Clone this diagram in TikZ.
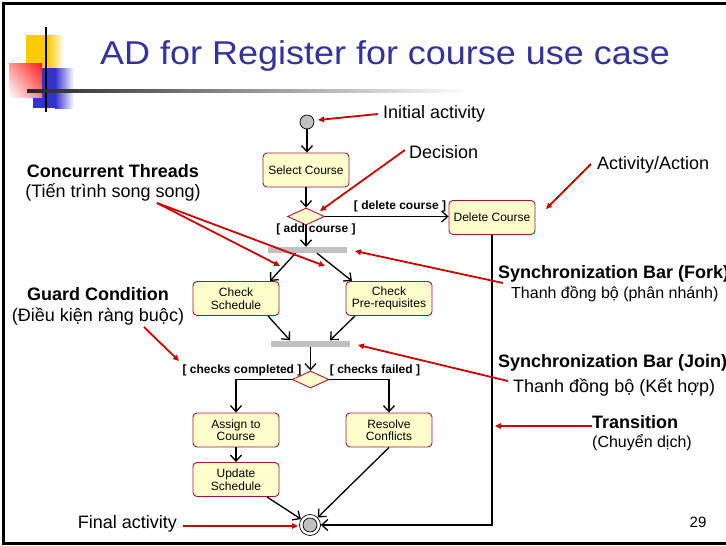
\documentclass[tikz,border=0pt]{standalone}
\usepackage{fontspec}
\usepackage{graphicx}
\setmainfont{Liberation Sans}
\usetikzlibrary{arrows.meta,shapes.geometric,calc,shadings}
\definecolor{titleblue}{HTML}{333399}
\definecolor{boxfill}{HTML}{FFFFCC}
\definecolor{boxline}{HTML}{A0183C}
\definecolor{barfill}{HTML}{C0C0C0}
\definecolor{notered}{HTML}{CC0000}
\definecolor{decoyellow}{HTML}{FFCC00}
\definecolor{decored}{HTML}{FF1A1A}
\definecolor{decoblue}{HTML}{3333CC}
\tikzset{
  activity/.style={draw=boxline, fill=boxfill, line width=0.9pt, rounded corners=4pt,
    minimum width=86pt, minimum height=34pt, align=center, inner sep=1pt,
    font=\fontsize{12}{12.5}\selectfont},
  choice/.style={diamond, draw=boxline, fill=boxfill, line width=0.9pt, inner sep=0pt,
    minimum width=37pt, minimum height=17pt},
  syncbar/.style={rectangle, fill=barfill, inner sep=0pt, minimum width=79pt, minimum height=6pt},
  startnode/.style={circle, draw=black, fill=barfill, line width=0.7pt, minimum size=14pt, inner sep=0pt},
  flow/.style={draw=black, line width=1.3pt, -{Straight Barb[length=6pt,width=11pt,line width=1.3pt]}},
  guard/.style={font=\bfseries\fontsize{12}{13}\selectfont, inner sep=0pt},
  note/.style={draw=notered, line width=1.8pt, -{Triangle[length=6pt,width=5.5pt]}},
  notetext/.style={font=\fontsize{18}{20}\selectfont, inner sep=0pt},
  notehead/.style={font=\bfseries\fontsize{18}{20}\selectfont, inner sep=0pt},
  notesub/.style={font=\fontsize{18}{20}\selectfont, inner sep=0pt},
  notesmall/.style={font=\fontsize{16}{18}\selectfont, inner sep=0pt},
}
\begin{document}
\begin{tikzpicture}[x=1pt,y=-1pt]
\useasboundingbox (0,0) rectangle (726,546);
\clip (0,0) rectangle (726,546);
\fill[white] (0,0) rectangle (726,546);

% slide frame
\draw[line width=3pt] (3,3) rectangle (760,543);

% title decoration
\fill[decoyellow] (26,35) rectangle (48,67);
\shade[left color=decoyellow, right color=white] (48,35) rectangle (64,67);
\fill[decoblue] (33,68) rectangle (55,108);
\shade[left color=decoblue, right color=white] (55,68) rectangle (74,108);
\shade[upper right=decored, upper left=white!55!decored, lower right=white!45!decored, lower left=white] (9,63) rectangle (42,97);
\draw[line width=2.2pt] (46,27) -- (46,112);
\shade[left color=black!85, right color=white] (27,89.8) rectangle (470,92.2);
\node[anchor=west, text=titleblue, font=\fontsize{33}{36}\selectfont, inner sep=0pt] (title) at (100,56) {\scalebox{1.09}[1]{AD for Register for course use case}};

% activity diagram
\node[startnode] (init) at (307,122) {};
\node[activity] (sel) at (306,170) {Select Course};
\node[choice] (dec1) at (306,216.5) {};
\node[activity] (del) at (492,217.5) {Delete Course};
\node[syncbar] (fork) at (307.5,250) {};
\node[activity] (chs) at (236,298.5) {Check\\Schedule};
\node[activity] (chp) at (389,298.5) {Check\\Pre-requisites};
\node[syncbar] (join) at (310.5,343.5) {};
\node[choice] (dec2) at (310.5,379.5) {};
\node[activity] (asg) at (236,430) {Assign to\\Course};
\node[activity] (upd) at (236,479.5) {Update\\Schedule};
\node[activity] (res) at (389,430) {Resolve\\Conflicts};
\node[circle, draw=black, line width=0.7pt, minimum size=21pt, inner sep=0pt] (final) at (310,525) {};
\node[circle, draw=black, fill=barfill, line width=0.7pt, minimum size=14pt, inner sep=0pt] (finalin) at (310,525) {};

\draw[flow] (init.south) -- (init.south |- sel.north);
\draw[flow] (sel.south -| dec1.north) -- (dec1.north);
\draw[flow] (dec1.east) -- (dec1.east -| del.west);
\draw[flow] (dec1.south) -- (dec1.south |- fork.north);
\draw[flow] ($(fork.south)+(-12,0)$) -- ($(chs.north)+(34,0)$);
\draw[flow] ($(fork.south)+(9.5,0)$) -- ($(chp.north)+(-37,0)$);
\draw[flow] ($(chs.south)+(32,0)$) -- ($(join.north)+(-20.5,0)$);
\draw[flow] ($(chp.south)+(-34,0)$) -- ($(join.north)+(19.5,0)$);
\draw[flow] (join.south) -- (dec2.north);
\draw[flow] (dec2.west) -| (asg.north);
\draw[flow] (dec2.east) -| (res.north);
\draw[flow] (asg.south) -- (upd.north);
\draw[flow] ($(upd.south)+(31,0)$) -- (final);
\draw[flow] (res.south) -- (final);
\draw[flow] (del.south) |- (final.east);

\node[guard] (gdel) at (400,206) {[ delete course ]};
\node[guard] (gadd) at (316,229) {[ add\,\,course ]};
\node[guard] (gok) at (242,370) {[ checks completed ]};
\node[guard] (gfail) at (375,370) {[ checks failed ]};

% annotations
\node[notetext, anchor=west] (tinit) at (383,114) {Initial activity};
\coordinate (sinit) at (378,114);
\coordinate (ainit) at (318,120);
\draw[note] (sinit) -- (ainit);

\node[notetext, anchor=west] (tdec) at (409,152) {Decision};
\coordinate (adec) at (320,211);
\coordinate (sdec) at (405,150);
\draw[note] (sdec) -- (adec);

\node[notetext, anchor=west] (tact) at (597,165) {Activity/Action};
\coordinate (sact) at (591,164);
\coordinate (aact) at (546,209);
\draw[note] (sact) -- (aact);

\node[notehead] (tconc) at (113,171) {Concurrent Threads};
\node[notesub] (tconc2) at (113,192) {(Tiến trình song song)};
\coordinate (sconc) at (157,203);
\coordinate (aconc1) at (280,266);
\coordinate (aconc2) at (325,266);
\draw[note] (sconc) -- (aconc1);
\draw[note] (sconc) -- (aconc2);

\node[notehead, anchor=west] (tfork) at (498,274) {Synchronization Bar (Fork)};
\node[notesmall, anchor=west] (tfork2) at (511,294) {Thanh đồng bộ (phân nhánh)};
\coordinate (sfork) at (503,283);
\coordinate (afork) at (355,251);
\draw[note] (sfork) -- (afork);

\node[notehead] (tguard) at (98,294) {Guard Condition};
\node[notesub] (tguard2) at (98,316) {(Điều kiện ràng buộc)};
\coordinate (sguard) at (144,327);
\coordinate (aguard) at (179,361);
\draw[note] (sguard) -- (aguard);

\node[notehead, anchor=west] (tjoin) at (498,363) {Synchronization Bar (Join)};
\node[notesub, anchor=west] (tjoin2) at (513,387) {Thanh đồng bộ (Kết hợp)};
\coordinate (sjoin) at (508,381);
\coordinate (ajoin) at (358,345);
\draw[note] (sjoin) -- (ajoin);

\node[notehead, anchor=west] (ttrans) at (592,422) {Transition};
\node[notesmall, anchor=west] (ttrans2) at (592,443) {(Chuyển dịch)};
\coordinate (strans) at (592,426);
\coordinate (atrans) at (495,426);
\draw[note] (strans) -- (atrans);

\node[notetext, anchor=east] (tfinal) at (177,524) {Final activity};
\coordinate (sfinal) at (183,526);
\coordinate (afinal) at (298,526);
\draw[note] (sfinal) -- (afinal);

\node[font=\fontsize{15}{16}\selectfont, inner sep=0pt] (pageno) at (698,522) {29};
\end{tikzpicture}
\end{document}
